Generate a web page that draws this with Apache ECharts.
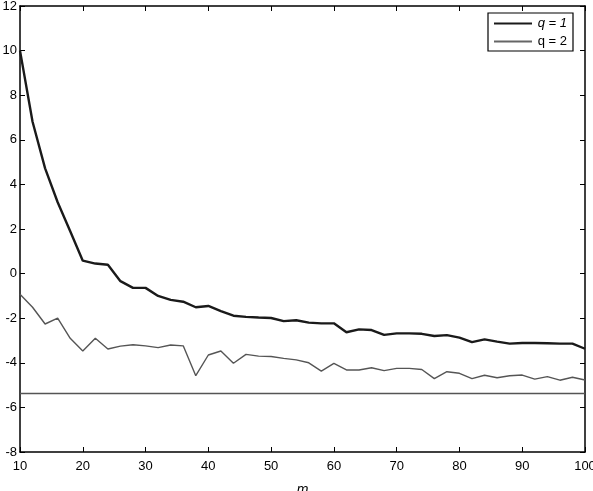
<!DOCTYPE html>
<html>
<head>
<meta charset="utf-8">
<script src="https://cdn.jsdelivr.net/npm/echarts@6/dist/echarts.min.js"></script>
<style>
  html, body { margin: 0; padding: 0; background: #fff; }
  #chart { width: 593px; height: 491px; }
</style>
</head>
<body>
<div id="chart"></div>
<script>
// m values, step 2
var mValues = [10, 12, 14, 16, 18, 20, 22, 24, 26, 28, 30, 32, 34, 36, 38, 40, 42, 44, 46, 48,
  50, 52, 54, 56, 58, 60, 62, 64, 66, 68, 70, 72, 74, 76, 78, 80, 82, 84, 86, 88, 90, 92, 94, 96, 98, 100];

var q1 = [10.0, 6.81, 4.72, 3.2, 1.9, 0.58, 0.45, 0.4, -0.34, -0.64, -0.64, -1.0, -1.18, -1.26, -1.51, -1.45,
  -1.68, -1.89, -1.94, -1.97, -1.99, -2.13, -2.09, -2.2, -2.23, -2.23, -2.63, -2.5, -2.53, -2.75,
  -2.68, -2.68, -2.7, -2.8, -2.76, -2.87, -3.07, -2.95, -3.05, -3.14, -3.11, -3.11, -3.12, -3.14, -3.14, -3.37];

var q2 = [-0.93, -1.51, -2.26, -2.0, -2.9, -3.47, -2.9, -3.38, -3.25, -3.19, -3.24, -3.32, -3.2, -3.24, -4.58, -3.65,
  -3.47, -4.02, -3.62, -3.7, -3.72, -3.8, -3.87, -4.0, -4.37, -4.03, -4.32, -4.32, -4.22, -4.35,
  -4.25, -4.25, -4.3, -4.71, -4.4, -4.47, -4.71, -4.56, -4.67, -4.58, -4.55, -4.73, -4.62, -4.78, -4.65, -4.77];

var refLevel = -5.37;
var seriesNames = ['q = 1', 'q = 2'];

function pairs(ys) {
  return mValues.map(function (m, i) { return [m, ys[i]]; });
}

var chart = echarts.init(document.getElementById('chart'));

var font = 'Liberation Sans, Arial, sans-serif';
var axisBase = {
  axisLine: { show: true, onZero: false, lineStyle: { color: '#000', width: 1.5 } },
  axisTick: { show: true, inside: true, length: 5, lineStyle: { color: '#000' } },
  splitLine: { show: false }
};

var option = {
  animation: false,
  backgroundColor: '#fff',
  textStyle: { fontFamily: font },
  grid: { left: 20, right: 8, top: 6, bottom: 39, outerBoundsMode: 'none', containLabel: false },
  legend: {
    right: 20,
    top: 13,
    orient: 'vertical',
    itemWidth: 38,
    itemHeight: 2,
    itemGap: 5,
    padding: [4, 6, 3, 6],
    borderColor: '#000',
    borderWidth: 1.2,
    data: [
      { name: seriesNames[0], icon: 'rect', itemStyle: { color: '#1a1a1a' } },
      { name: seriesNames[1], icon: 'rect', itemStyle: { color: '#666' } }
    ],
    formatter: function (name) {
      return name === 'q = 1' ? '{i|' + name + '}' : '{n|' + name + '}';
    },
    textStyle: {
      rich: {
        i: { fontStyle: 'italic', fontSize: 13, color: '#000', fontFamily: font, align: 'right', width: 30 },
        n: { fontSize: 13, color: '#000', fontFamily: font, align: 'right', width: 30 }
      }
    }
  },
  xAxis: [
    Object.assign({}, axisBase, {
      type: 'value', min: 10, max: 100, interval: 10,
      name: 'm', nameLocation: 'middle', nameGap: 31,
      nameTextStyle: { fontStyle: 'italic', fontSize: 14, color: '#000' },
      axisLabel: { color: '#000', fontSize: 13, margin: 8 }
    }),
    Object.assign({}, axisBase, {
      type: 'value', min: 10, max: 100, interval: 10, position: 'top',
      axisLabel: { show: false }
    })
  ],
  yAxis: [
    Object.assign({}, axisBase, {
      type: 'value', min: -8, max: 12, interval: 2,
      axisLabel: { color: '#000', fontSize: 13, margin: 3 }
    }),
    Object.assign({}, axisBase, {
      type: 'value', min: -8, max: 12, interval: 2, position: 'right',
      axisLabel: { show: false }
    })
  ],
  series: [
    {
      name: seriesNames[0],
      type: 'line',
      data: pairs(q1),
      symbol: 'none',
      lineStyle: { color: '#1a1a1a', width: 2.4 },
      itemStyle: { color: '#1a1a1a' }
    },
    {
      name: seriesNames[1],
      type: 'line',
      data: pairs(q2),
      symbol: 'none',
      lineStyle: { color: '#555', width: 1.4 },
      itemStyle: { color: '#555' },
      markLine: {
        silent: true,
        symbol: 'none',
        label: { show: false },
        lineStyle: { color: '#555', width: 1.4, type: 'solid' },
        data: [{ yAxis: refLevel }]
      }
    }
  ]
};

chart.setOption(option);
</script>
</body>
</html>
